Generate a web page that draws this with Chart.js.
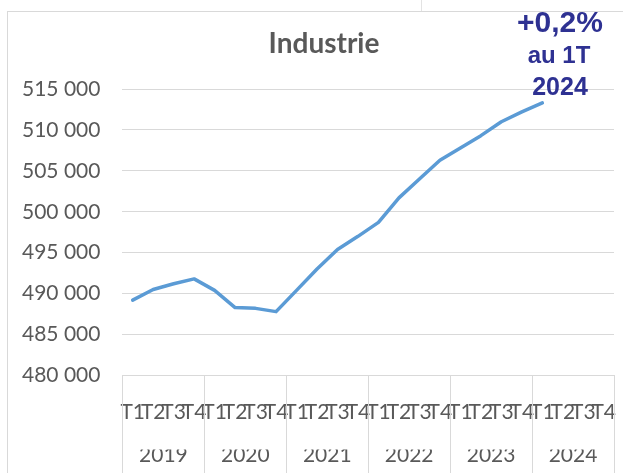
<!DOCTYPE html>
<html>
<head>
<meta charset="utf-8">
<script src="https://cdn.jsdelivr.net/npm/chart.js@4.4.1/dist/chart.umd.min.js"></script>
<style>
  html, body { margin: 0; padding: 0; background: #fff; }
  #wrap { position: relative; width: 623px; height: 473px; overflow: hidden; }
  #frame { position: absolute; left: 7px; top: 11px; width: 700px; height: 600px; border: 1px solid #d9d9d9; }
  #cell { position: absolute; left: 421px; top: 0; width: 1px; height: 11px; background: #e3e3e3; }
  canvas { position: absolute; left: 0; top: 0; }
</style>
</head>
<body>
<div id="wrap">
  <div id="frame"></div>
  <div id="cell"></div>
  <canvas id="industrie" width="623" height="473"></canvas>
</div>
<script>
// categories
var years = ["2019", "2020", "2021", "2022", "2023", "2024"];
var quarters = ["T1", "T2", "T3", "T4"];
var labels = [];
years.forEach(function () { quarters.forEach(function (q) { labels.push(q); }); });

// emploi industrie, fin de trimestre
var emploi = [
  489200, 490500, 491200, 491800,
  490400, 488300, 488200, 487800,
  490400, 493000, 495400, 497000,
  498700, 501700, 504000, 506300,
  507800, 509300, 511000, 512200,
  513300, null, null, null
];

var yMin = 480000, yMax = 515000, yStep = 5000;
var title = "Industrie";
var annotation = ["+0,2%", "au 1T", "2024"];

function fmt(v) {
  return String(v).replace(/\B(?=(\d{3})+(?!\d))/g, " ");
}

Chart.defaults.font.family = "Lato, 'Open Sans', sans-serif";
Chart.defaults.color = "#595959";

// separators between years, through both label rows
var separators = {
  id: "separators",
  afterDraw: function (chart) {
    var x = chart.scales.x, c = chart.ctx;
    var half = (x.getPixelForTick(1) - x.getPixelForTick(0)) / 2;
    c.save();
    c.strokeStyle = "#d9d9d9";
    c.lineWidth = 1;
    for (var i = 0; i <= labels.length; i += quarters.length) {
      var px = Math.round(x.getPixelForTick(Math.min(i, labels.length - 1)) + (i < labels.length ? -half : half)) + 0.5;
      c.beginPath();
      c.moveTo(px, x.top);
      c.lineTo(px, chart.height);
      c.stroke();
    }
    c.restore();
  }
};

// chart title (sits a bit right of canvas centre, like the workbook) + blue note
var texts = {
  id: "texts",
  afterDraw: function (chart) {
    var c = chart.ctx;
    c.save();
    c.textAlign = "center";
    c.textBaseline = "alphabetic";
    c.fillStyle = "#595959";
    c.font = "bold 28px Lato, 'Open Sans', sans-serif";
    c.fillText(title, 324, 53);

    c.fillStyle = "#2E3192";
    c.font = "bold 30px 'Liberation Sans', Arial, sans-serif";
    c.fillText(annotation[0], 560, 32);
    c.font = "bold 24px 'Liberation Sans', Arial, sans-serif";
    c.fillText(annotation[1], 559, 63);
    c.font = "bold 25px 'Liberation Sans', Arial, sans-serif";
    c.fillText(annotation[2], 560, 95);
    c.restore();
  }
};

var ctx = document.getElementById("industrie").getContext("2d");
var chart = new Chart(ctx, {
  type: "line",
  data: {
    labels: labels,
    datasets: [{
      label: title,
      data: emploi,
      borderColor: "#5B9BD5",
      borderWidth: 3.5,
      borderJoinStyle: "round",
      borderCapStyle: "round",
      pointRadius: 0,
      tension: 0,
      fill: false
    }]
  },
  options: {
    responsive: false,
    animation: false,
    layout: { padding: { top: 89, left: 0, right: 9, bottom: 11 } },
    plugins: {
      legend: { display: false },
      tooltip: { enabled: false },
      title: { display: false }
    },
    scales: {
      x: {
        type: "category",
        weight: 0,
        offset: true,
        border: { display: true, color: "#d9d9d9" },
        grid: { display: false, drawTicks: false },
        ticks: {
          autoSkip: false,
          maxRotation: 0,
          minRotation: 0,
          padding: 0,
          color: "#595959",
          font: { size: 21, lineHeight: 3.52 }
        }
      },
      x2: {
        type: "category",
        position: "bottom",
        weight: 1,
        labels: years,
        offset: true,
        border: { display: false },
        grid: { display: false, drawTicks: false },
        ticks: {
          autoSkip: false,
          maxRotation: 0,
          padding: 0,
          color: "#595959",
          font: { size: 21, lineHeight: 0.6 }
        }
      },
      y: {
        min: yMin,
        max: yMax,
        border: { display: false },
        grid: { color: "#d9d9d9", drawTicks: false },
        ticks: {
          stepSize: yStep,
          padding: 22,
          color: "#595959",
          font: { size: 21 },
          callback: function (v) { return fmt(v); }
        }
      }
    }
  },
  plugins: [separators, texts]
});
</script>
</body>
</html>
